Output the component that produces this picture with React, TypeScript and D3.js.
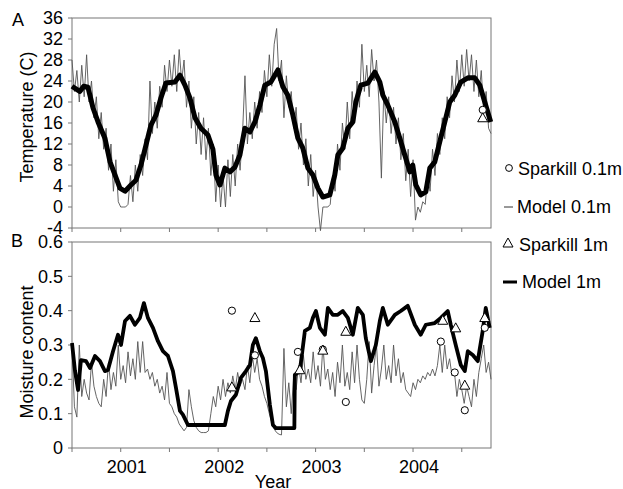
import * as d3 from 'd3';

// sampled traces (regular time step, decimal years)
const sampleStart = 2000.5;
const sampleStep = 0.025;

const temp01m = [
  28, 22, 26, 20, 27, 21, 29, 20, 24, 17, 21, 13, 18, 11, 15, 7, 12, 3, 9, 1,
  0, 0, 0, 0.5, 6, 1, 8, 3, 10, 6, 13, 9, 24, 14, 20, 15, 23, 19, 27, 22,
  28, 23, 29, 22, 30, 24, 28, 19, 24, 15, 21, 12, 18, 10, 17, 9, 15, 6, 12, 1,
  8, 0, 6, 0, 9, 2, 10, 4, 12, 7, 14, 25, 12, 18, 13, 20, 15, 22, 18, 26,
  21, 29, 23, 31, 34, 24, 28, 17, 25, 19, 22, 15, 19, 11, 16, 8, 13, 4, 10, 2,
  7, 0, -4.5, 0, 0, 0, 0.5, 6, 3, 12, 7, 16, 11, 20, 13, 22, 16, 24, 19, 31,
  22, 27, 21, 30, 24, 28, 20, 5.5, 22, 16, 21, 14, 19, 12, 17, 9, 14, 5, 11, 2,
  9, -2.5, 0, -1, 1, 0.5, 6, 3, 11, 6, 14, 10, 17, 13, 21, 17, 25, 20, 28, 22,
  29, 23, 30, 24, 29, 22, 28, 21, 26, 18, 22, 15, 14,
];

const moist01m = [
  0.3, 0.12, 0.09, 0.3, 0.15, 0.2, 0.16, 0.14, 0.25, 0.18, 0.15, 0.13, 0.12, 0.2, 0.15, 0.25, 0.17, 0.22, 0.18, 0.3,
  0.2, 0.24, 0.19, 0.28, 0.21, 0.26, 0.2, 0.31, 0.22, 0.31, 0.22, 0.23, 0.2, 0.22, 0.18, 0.2, 0.16, 0.18, 0.14, 0.22,
  0.13, 0.12, 0.1, 0.09, 0.07, 0.06, 0.05, 0.06, 0.17, 0.12, 0.08, 0.06, 0.05, 0.045, 0.045, 0.045, 0.05, 0.1, 0.15, 0.12,
  0.18, 0.14, 0.2, 0.15, 0.19, 0.16, 0.21, 0.17, 0.22, 0.18, 0.2, 0.17, 0.24, 0.19, 0.27, 0.22, 0.26, 0.2, 0.18, 0.15,
  0.13, 0.1, 0.075, 0.055, 0.045, 0.04, 0.038, 0.29, 0.12, 0.19, 0.1, 0.21, 0.17, 0.24, 0.19, 0.27, 0.2, 0.23, 0.19, 0.28,
  0.2, 0.24, 0.18, 0.3, 0.2, 0.23, 0.17, 0.22, 0.15, 0.25, 0.19, 0.3, 0.18, 0.22, 0.17, 0.28, 0.19, 0.3, 0.2, 0.14,
  0.13, 0.2, 0.31, 0.16, 0.24, 0.3, 0.18, 0.23, 0.3, 0.2, 0.24, 0.19, 0.3, 0.21, 0.26, 0.19, 0.22, 0.17, 0.16, 0.15,
  0.19, 0.17, 0.2, 0.19, 0.21, 0.2, 0.22, 0.21, 0.23, 0.21, 0.24, 0.3, 0.22, 0.3, 0.23, 0.26, 0.21, 0.22, 0.15, 0.2,
  0.17, 0.13, 0.18, 0.15, 0.12, 0.2, 0.15, 0.22, 0.26, 0.3, 0.22, 0.25, 0.2,
];

// Model 1m traces as [year, value]
const temp1m: [number, number][] = [
  [2000.5, 23], [2000.54, 22.5], [2000.58, 22], [2000.62, 23], [2000.664, 22.8], [2000.715, 18.9],
  [2000.767, 16.2], [2000.838, 13.1], [2000.89, 8.6], [2000.941, 6.1], [2000.992, 3.6], [2001.044, 3.0],
  [2001.105, 4.2], [2001.156, 5.1], [2001.208, 8], [2001.259, 11.8], [2001.31, 15.6], [2001.362, 17.5],
  [2001.413, 20.8], [2001.464, 23.6], [2001.556, 23.8], [2001.608, 25.1], [2001.659, 23.2], [2001.71, 20.8],
  [2001.762, 17], [2001.823, 15], [2001.895, 13.7], [2001.946, 11], [2001.977, 6.1], [2002.018, 4.2],
  [2002.069, 7.4], [2002.121, 6.7], [2002.172, 7.6], [2002.223, 9.9], [2002.274, 15], [2002.326, 14.3],
  [2002.377, 16.2], [2002.428, 19.4], [2002.479, 23.2], [2002.541, 23.8], [2002.613, 26.1], [2002.664, 22.9],
  [2002.715, 21.3], [2002.767, 17.5], [2002.818, 13.1], [2002.869, 11.2], [2002.921, 7.4], [2002.972, 6.1],
  [2003.023, 3.6], [2003.074, 1.9], [2003.146, 2.3], [2003.197, 6.1], [2003.228, 9.9], [2003.279, 11.2],
  [2003.331, 15], [2003.382, 16.2], [2003.413, 20], [2003.464, 23.2], [2003.536, 23.6], [2003.608, 25.7],
  [2003.659, 23.8], [2003.69, 21.3], [2003.741, 19.4], [2003.813, 16.2], [2003.864, 13.1], [2003.915, 9.9],
  [2003.967, 6.7], [2003.997, 8], [2004.028, 4.2], [2004.079, 2.3], [2004.131, 2.9], [2004.172, 7.4],
  [2004.223, 8.6], [2004.274, 12.4], [2004.326, 16.2], [2004.377, 20], [2004.428, 21.3], [2004.49, 23.8],
  [2004.562, 24.6], [2004.633, 24.6], [2004.685, 23.2], [2004.736, 20], [2004.797, 16.2],
];

const moist1m: [number, number][] = [
  [2000.5, 0.306], [2000.531, 0.224], [2000.562, 0.169], [2000.592, 0.256], [2000.644, 0.253], [2000.685, 0.233],
  [2000.736, 0.268], [2000.787, 0.253], [2000.838, 0.224], [2000.869, 0.227], [2000.921, 0.282], [2000.972, 0.33],
  [2001.003, 0.3], [2001.044, 0.37], [2001.095, 0.385], [2001.146, 0.359], [2001.197, 0.379], [2001.238, 0.422],
  [2001.279, 0.379], [2001.331, 0.35], [2001.382, 0.311], [2001.433, 0.282], [2001.485, 0.268], [2001.536, 0.224],
  [2001.567, 0.175], [2001.608, 0.108], [2001.638, 0.097], [2001.69, 0.067], [2002.069, 0.067], [2002.1, 0.108],
  [2002.131, 0.137], [2002.182, 0.155], [2002.233, 0.204], [2002.285, 0.224], [2002.326, 0.242], [2002.356, 0.3],
  [2002.387, 0.32], [2002.428, 0.282], [2002.459, 0.262], [2002.49, 0.224], [2002.531, 0.125], [2002.562, 0.067],
  [2002.592, 0.058], [2002.782, 0.058], [2002.787, 0.213], [2002.838, 0.224], [2002.89, 0.341], [2002.941, 0.35],
  [2002.972, 0.379], [2003.003, 0.399], [2003.044, 0.35], [2003.095, 0.33], [2003.126, 0.408], [2003.177, 0.388],
  [2003.228, 0.388], [2003.279, 0.399], [2003.331, 0.379], [2003.382, 0.33], [2003.433, 0.408], [2003.485, 0.388],
  [2003.515, 0.32], [2003.567, 0.253], [2003.618, 0.3], [2003.659, 0.37], [2003.69, 0.408], [2003.741, 0.359],
  [2003.813, 0.388], [2003.874, 0.399], [2003.946, 0.414], [2004.018, 0.359], [2004.079, 0.33], [2004.131, 0.359],
  [2004.223, 0.364], [2004.285, 0.379], [2004.356, 0.399], [2004.387, 0.359], [2004.438, 0.3], [2004.49, 0.242],
  [2004.531, 0.224], [2004.562, 0.282], [2004.613, 0.271], [2004.664, 0.253], [2004.715, 0.341], [2004.746, 0.408],
  [2004.787, 0.35],
];

// Sparkill observations
const sparkillTemp01m: [number, number][] = [[2004.715, 18.5]];
const sparkillTemp1m: [number, number][] = [[2004.715, 17]];
const sparkillMoist01m: [number, number][] = [
  [2002.141, 0.4], [2002.377, 0.27], [2002.818, 0.28], [2003.074, 0.287], [2003.31, 0.134],
  [2004.285, 0.31], [2004.428, 0.22], [2004.531, 0.11], [2004.736, 0.35],
];
const sparkillMoist1m: [number, number][] = [
  [2002.141, 0.178], [2002.377, 0.38], [2002.838, 0.228], [2003.074, 0.285], [2003.31, 0.34],
  [2004.305, 0.372], [2004.438, 0.35], [2004.531, 0.183], [2004.736, 0.38],
];

const halfYearTicks = [2000.5, 2001, 2001.5, 2002, 2002.5, 2003, 2003.5, 2004, 2004.5];
const yearLabels = [2001, 2002, 2003, 2004];
const tempTicks = [-4, 0, 4, 8, 12, 16, 20, 24, 28, 32, 36];
const moistTicks = [0, 0.1, 0.2, 0.3, 0.4, 0.5, 0.6];

const FONT = '"Liberation Sans", Arial, sans-serif';
const AXIS = '#777';
const L = 72, R = 491;

const x = d3.scaleLinear().domain([2000.5, 2004.8]).range([L, R]);
const yT = d3.scaleLinear().domain([-4, 36]).range([228, 18]);
const yM = d3.scaleLinear().domain([0, 0.6]).range([448, 242]);

const sampled = (vals: number[]): [number, number][] =>
  vals.map((v, i) => [sampleStart + i * sampleStep, v]);

const tri = (cx: number, cy: number, s = 10) =>
  `M${cx},${cy - s * 0.5}L${cx + s / 2},${cy + s * 0.4}L${cx - s / 2},${cy + s * 0.4}Z`;

function Panel({ y, ticks, fmt, thin, thick, thickW, circles, triangles }: any) {
  const line = d3.line<[number, number]>().x((d) => x(d[0])).y((d) => y(d[1]));
  const [bottom, top] = y.range();
  return (
    <g>
      <rect x={L} y={top} width={R - L} height={bottom - top} fill="none" stroke={AXIS} strokeWidth={1} />
      {halfYearTicks.map((t) => (
        <line key={t} x1={x(t)} x2={x(t)} y1={bottom} y2={bottom + 4} stroke={AXIS} />
      ))}
      {ticks.map((t: number) => (
        <g key={t}>
          <line x1={L - 4} x2={L} y1={y(t)} y2={y(t)} stroke={AXIS} />
          <text x={63} y={y(t)} dy="0.35em" textAnchor="end" fontSize={18} fontFamily={FONT}>
            {fmt(t)}
          </text>
        </g>
      ))}
      <path d={line(thin) || ''} fill="none" stroke="#555" strokeWidth={0.9} />
      <path d={line(thick) || ''} fill="none" stroke="#000" strokeWidth={thickW} strokeLinejoin="round" />
      {circles.map((d: [number, number], i: number) => (
        <circle key={i} cx={x(d[0])} cy={y(d[1])} r={3.6} fill="#fff" stroke="#000" strokeWidth={1} />
      ))}
      {triangles.map((d: [number, number], i: number) => (
        <path key={i} d={tri(x(d[0]), y(d[1]))} fill="#fff" stroke="#000" strokeWidth={1} />
      ))}
    </g>
  );
}

export default function App() {
  return (
    <svg width={623} height={489} style={{ position: 'absolute', left: 0, top: 0, background: '#fff' }}>
      <rect width={623} height={489} fill="#fff" />
      <Panel y={yT} ticks={tempTicks} fmt={(t: number) => String(t)} thin={sampled(temp01m)} thick={temp1m}
        thickW={5} circles={sparkillTemp01m} triangles={sparkillTemp1m} />
      <Panel y={yM} ticks={moistTicks} fmt={(t: number) => (t === 0 ? '0' : t.toFixed(1))} thin={sampled(moist01m)}
        thick={moist1m} thickW={3.8} circles={sparkillMoist01m} triangles={sparkillMoist1m} />
      {yearLabels.map((yr) => (
        <text key={yr} x={x(yr) + 6} y={473} textAnchor="middle" fontSize={18} fontFamily={FONT}>{yr}</text>
      ))}
      <text x={273} y={488} textAnchor="middle" fontSize={18} fontFamily={FONT}>Year</text>
      <text x={12} y={26} fontSize={18} fontFamily={FONT}>A</text>
      <text x={11} y={247} fontSize={18} fontFamily={FONT}>B</text>
      <text transform="translate(33,117) rotate(-90)" textAnchor="middle" fontSize={18} fontFamily={FONT}>Temperature (C)</text>
      <text transform="translate(33,352) rotate(-90)" textAnchor="middle" fontSize={18} fontFamily={FONT}>Moisture content</text>
      {/* legend */}
      <circle cx={509} cy={168} r={3.4} fill="#fff" stroke="#000" />
      <text x={518} y={175} fontSize={18} fontFamily={FONT}>Sparkill 0.1m</text>
      <line x1={504} x2={513} y1={207} y2={207} stroke="#333" strokeWidth={1} />
      <text x={517} y={213} fontSize={18} fontFamily={FONT}>Model 0.1m</text>
      <path d={tri(508, 243, 10)} fill="#fff" stroke="#000" />
      <text x={519} y={251} fontSize={18} fontFamily={FONT}>Sparkill 1m</text>
      <line x1={503} x2={517} y1={282} y2={282} stroke="#000" strokeWidth={3} />
      <text x={522} y={288} fontSize={18} fontFamily={FONT}>Model 1m</text>
    </svg>
  );
}
